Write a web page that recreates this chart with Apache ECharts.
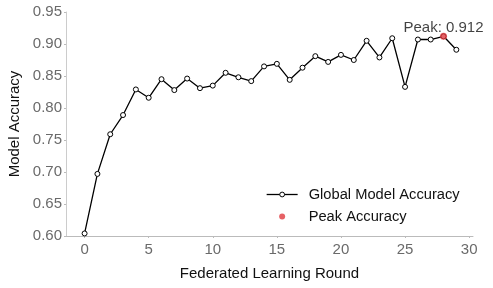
<!DOCTYPE html>
<html><head><meta charset="utf-8">
<script src="https://cdn.jsdelivr.net/npm/echarts@6/dist/echarts.min.js"></script>
<style>html,body{margin:0;padding:0;background:#fff}#c{width:493px;height:288px}</style>
</head><body><div id="c"></div>
<script>
const rounds = [0,1,2,3,4,5,6,7,8,9,10,11,12,13,14,15,16,17,18,19,20,21,22,23,24,25,26,27,28,29];
const accuracy = [0.604,0.697,0.759,0.789,0.829,0.816,0.845,0.828,0.846,0.831,0.835,0.855,0.848,0.842,0.865,0.869,0.844,0.863,0.881,0.872,0.883,0.875,0.905,0.879,0.909,0.833,0.907,0.907,0.912,0.891];
const peakRound = 28;
const peakValue = 0.912;
const xTicks = [0,5,10,15,20,25,30];
const yTicks = [0.60,0.65,0.70,0.75,0.80,0.85,0.90,0.95];

const FONT = 'Liberation Sans, Arial, sans-serif';
const chart = echarts.init(document.getElementById('c'), null, {renderer:'canvas'});
chart.setOption({
  animation: false,
  grid: {left: 66, right: 20, top: 12, bottom: 52, containLabel: false, outerBoundsMode: 'none'},
  legend: {
    orient: 'vertical', left: 261, top: 182, itemWidth: 31, itemHeight: 6, itemGap: 7,
    textStyle: {fontFamily: FONT, fontSize: 14.7, color: '#111', padding: [0, 0, 0, 6]},
    data: [
      {name: 'Global Model Accuracy', itemStyle: {color: '#fff', borderColor: '#000', borderWidth: 1}, lineStyle: {color: '#000', width: 1.3}},
      {name: 'Peak Accuracy', icon: 'circle', itemStyle: {color: '#e0393e'}}
    ]
  },
  xAxis: {
    type: 'value', min: -1.45, max: 30.3,
    name: 'Federated Learning Round', nameLocation: 'middle', nameGap: 30,
    nameTextStyle: {fontFamily: FONT, fontSize: 15, color: '#111'},
    axisLine: {onZero: false, lineStyle: {color: '#bbb', width: 1}},
    axisTick: {show: true, length: 2, lineStyle: {color: '#bbb'}, customValues: xTicks},
    axisLabel: {fontFamily: FONT, fontSize: 15, color: '#6a6a6a', margin: 6, customValues: xTicks},
    splitLine: {show: false}
  },
  yAxis: {
    type: 'value', min: 0.6, max: 0.95, interval: 0.05,
    name: 'Model Accuracy', nameLocation: 'middle', nameGap: 44, nameRotate: 90,
    nameTextStyle: {fontFamily: FONT, fontSize: 15, color: '#111'},
    axisLine: {show: true, onZero: false, lineStyle: {color: '#ccc', width: 1}},
    axisTick: {show: true, length: 2, lineStyle: {color: '#bbb'}},
    axisLabel: {fontFamily: FONT, fontSize: 15, color: '#6a6a6a', margin: 4,
      formatter: v => { const t = yTicks.find(y => Math.abs(y - v) < 1e-6); return (t !== undefined ? t : v).toFixed(2); }},
    splitLine: {show: false}
  },
  series: [
    {
      name: 'Global Model Accuracy', type: 'line',
      data: rounds.map((r,i) => [r, accuracy[i]]),
      symbol: 'circle', symbolSize: 5,
      lineStyle: {color: '#000', width: 1.3},
      itemStyle: {color: '#fff', borderColor: '#000', borderWidth: 1}
    },
    {
      name: 'Peak Accuracy', type: 'scatter',
      data: [[peakRound, peakValue]],
      symbolSize: 7, z: 5,
      itemStyle: {color: '#e0393e'},
      label: {show: true, position: 'top', distance: -3, formatter: 'Peak: ' + peakValue.toFixed(3),
        fontFamily: FONT, fontSize: 15, color: '#111'}
    }
  ]
});
</script></body></html>
